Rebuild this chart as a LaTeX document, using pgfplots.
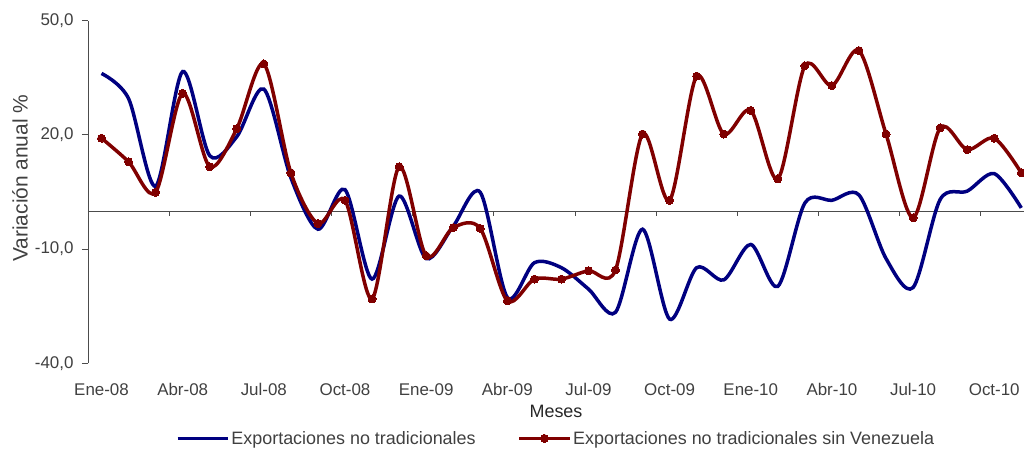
\documentclass[border=0pt]{standalone}
\usepackage{fontspec}
\setmainfont{Liberation Sans}
\usepackage{pgfplots}
\pgfplotsset{compat=1.18}
\definecolor{azul}{HTML}{000080}
\definecolor{granate}{HTML}{800000}
\definecolor{texto}{HTML}{404040}

\begin{document}
\begin{tikzpicture}
\begin{axis}[
  scale only axis, width=936bp, height=342.8bp,
  xmin=-0.5, xmax=34.1, ymin=-40, ymax=50,
  clip=false,
  axis x line=middle, axis y line=left,
  axis line style={-, black!70, line width=0.8bp},
  xtick={0,3,...,33},
  xticklabels={Ene-08,Abr-08,Jul-08,Oct-08,Ene-09,Abr-09,Jul-09,Oct-09,Ene-10,Abr-10,Jul-10,Oct-10},
  minor xtick={-0.5,2.5,...,32.5},
  major x tick style={draw=none},
  minor x tick style={black!70, line width=0.8bp},
  minor tick length=5bp, major tick length=6bp,
  tick align=outside,
  ytick={-40,-10,20,50},
  y tick style={black!70, line width=0.8bp},
  xticklabel style={font=\fontsize{17}{17}\selectfont, text=texto, anchor=north, text height=12.5bp, yshift=-163bp},
  yticklabel style={font=\fontsize{17}{17}\selectfont, text=texto, xshift=-5bp},
  /pgf/number format/.cd, fixed, fixed zerofill, precision=1, use comma, assume math mode=true,
  /pgfplots/.cd,
  xlabel={Meses},
  xlabel style={at={(axis description cs:0.5,-0.139)}, anchor=center, font=\fontsize{18}{18}\selectfont, text=black!85},
  ylabel={Variación anual \%},
  ylabel style={at={(axis description cs:-0.0727,0.54)}, anchor=center, rotate=0, font=\fontsize{21}{21}\selectfont, text=texto},
  legend style={at={(axis description cs:0.5,-0.219)}, anchor=center, draw=none, fill=none,
    legend columns=2, font=\fontsize{18}{18}\selectfont, text=texto,
    /tikz/every even column/.append style={column sep=40bp}},
  legend image code/.code={\draw[mark repeat=2,mark phase=2,#1] plot coordinates {(0bp,0bp) (25bp,0bp) (50bp,0bp)};},
]
\coordinate (ll) at (rel axis cs:0,0);
\addplot[azul, line width=3.5bp, smooth, tension=0.5] coordinates {
(0,36.1) (1,29.5) (2,6.5) (3,36.6) (4,14.5) (5,19.5) (6,32.0) (7,8.7) (8,-4.8) (9,5.6)
(10,-17.9) (11,3.9) (12,-12.5) (13,-4.0) (14,4.9) (15,-22.7) (16,-13.6) (17,-14.9) (18,-20.5) (19,-26.6)
(20,-4.8) (21,-28.4) (22,-14.9) (23,-18.1) (24,-8.8) (25,-19.8) (26,2.1) (27,2.8) (28,4.2) (29,-12.5)
(30,-20.1) (31,3.0) (32,5.2) (33,9.8) (34,0.8)
};
\addlegendentry{Exportaciones no tradicionales}
\addplot[granate, line width=3.5bp, smooth, tension=0.5, mark=*, mark size=4bp, mark options={solid, line width=0pt}] coordinates {
(0,19.1) (1,12.9) (2,4.9) (3,30.9) (4,11.6) (5,21.6) (6,38.6) (7,10.0) (8,-3.3) (9,2.8)
(10,-23.1) (11,11.6) (12,-11.8) (13,-4.4) (14,-4.6) (15,-23.6) (16,-17.9) (17,-17.9) (18,-15.7) (19,-15.5)
(20,20.2) (21,2.8) (22,35.4) (23,20.2) (24,26.4) (25,8.4) (26,38.1) (27,32.9) (28,42.1) (29,20.2)
(30,-1.8) (31,21.8) (32,16.1) (33,19.1) (34,10.0)
};
\addlegendentry{Exportaciones no tradicionales sin Venezuela}
\end{axis}
\pgfresetboundingbox
\path (ll) ++(-88bp,-85.7bp) rectangle ++(1024bp,449bp);
\end{tikzpicture}
\end{document}
